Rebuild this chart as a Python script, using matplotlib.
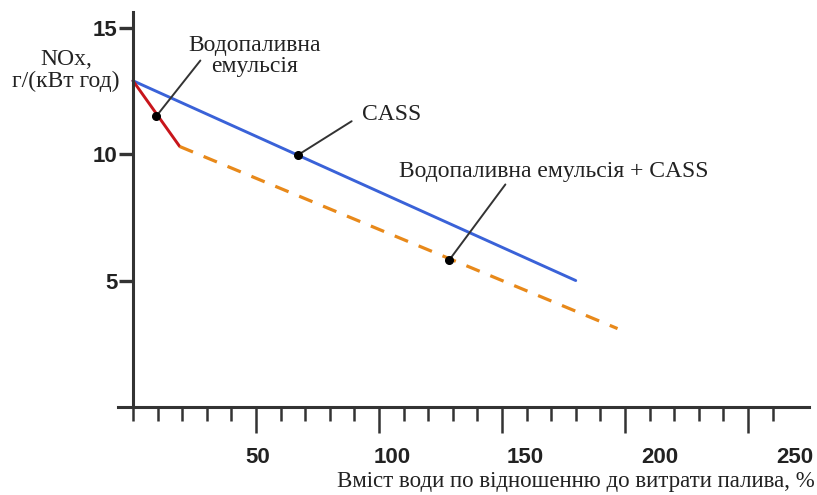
# NOx emissions vs water content: water-fuel emulsion, CASS and combined

import numpy as np
import matplotlib.pyplot as plt
from matplotlib.transforms import ScaledTranslation

# water content, % of fuel consumption / NOx, g/(kWh)
emul_x = [0, 19]
emul_y = [12.9, 10.3]
cass_x = [0, 180]
cass_y = [12.9, 5.0]
comb_x = [19, 197]
comb_y = [10.3, 3.1]

# points picked out by the callouts
emul_pt = (9.5, 11.5)
cass_pt = (67, 9.96)
comb_pt = (128.5, 5.8)

xticks = [50, 100, 150, 200, 250]
yticks = [5, 10, 15]

serif = 'Liberation Serif'

fig = plt.figure(figsize=(8.17, 4.95), dpi=100)
ax = fig.add_axes([0.1447, 0.1778, 0.846, 0.797])

ax.plot(cass_x, cass_y, color='#3a62d8', lw=2.1, solid_capstyle='round')
ax.plot(emul_x, emul_y, color='#c8151b', lw=2.1, solid_capstyle='round')
ax.plot(comb_x, comb_y, color='#e8891a', lw=2.3, ls=(0, (4.5, 3.6)))

# callout dots and leader lines
for pt, end in [(emul_pt, (27.4, 13.7)), (cass_pt, (88.9, 11.3)), (comb_pt, (151.4, 8.8))]:
    ax.annotate('', xy=pt, xytext=end,
                arrowprops=dict(arrowstyle='-', color='#333333', lw=1.4, shrinkA=0, shrinkB=0))
    ax.plot(*pt, 'o', color='black', ms=5.5, zorder=5)

ax.text(49.6, 13.88, 'Водопаливна\nемульсія', ha='center', va='center',
        family=serif, fontsize=17, color='#222222', linespacing=1.05)
ax.text(93.1, 11.56, 'CASS', ha='left', va='center',
        family=serif, fontsize=17, color='#222222')
ax.text(108, 9.33, 'Водопаливна емульсія + CASS', ha='left', va='center',
        family=serif, fontsize=17, color='#222222')

# axis captions
fig.text(66 / 817, 1 - 70.5 / 495, 'NOx,\nг/(кВт год)', ha='center', va='center',
         family=serif, fontsize=17, color='#222222', linespacing=1.0)
fig.text(815 / 817, 1 - 481 / 495, 'Вміст води по відношенню до витрати палива, %',
         ha='right', va='center', family=serif, fontsize=16.5, color='#222222')

ax.set_xlim(-6, 275)
ax.set_ylim(0, 15.6)

for side in ['top', 'right']:
    ax.spines[side].set_visible(False)
ax.spines['left'].set_position(('data', 0))
for side in ['left', 'bottom']:
    ax.spines[side].set_color('#333333')
    ax.spines[side].set_linewidth(2.2)

ax.set_yticks(yticks)
ax.set_yticklabels([str(v) for v in yticks])
ax.tick_params(axis='y', direction='out', length=10, width=2.4, pad=1, color='#333333')

ax.set_xticks(xticks)
ax.set_xticklabels([str(v) for v in xticks])
ax.set_xticks(np.arange(0, 270, 10), minor=True)
ax.tick_params(axis='x', which='major', direction='out', length=19, width=1.8,
               pad=10, color='#333333')
ax.tick_params(axis='x', which='minor', direction='out', length=10, width=1.8,
               color='#333333')

for lab in ax.get_xticklabels() + ax.get_yticklabels():
    lab.set_family('Liberation Sans')
    lab.set_fontweight('bold')
    lab.set_fontsize(16)
    lab.set_color('#222222')

# the printed scale drifts to the right of its tick marks
label_shift_px = [2, 13, 23, 35, 47]
for lab, dx in zip(ax.get_xticklabels(), label_shift_px):
    lab.set_transform(lab.get_transform() + ScaledTranslation(dx / 100, 0, fig.dpi_scale_trans))

fig.savefig('out.png', dpi=100)
